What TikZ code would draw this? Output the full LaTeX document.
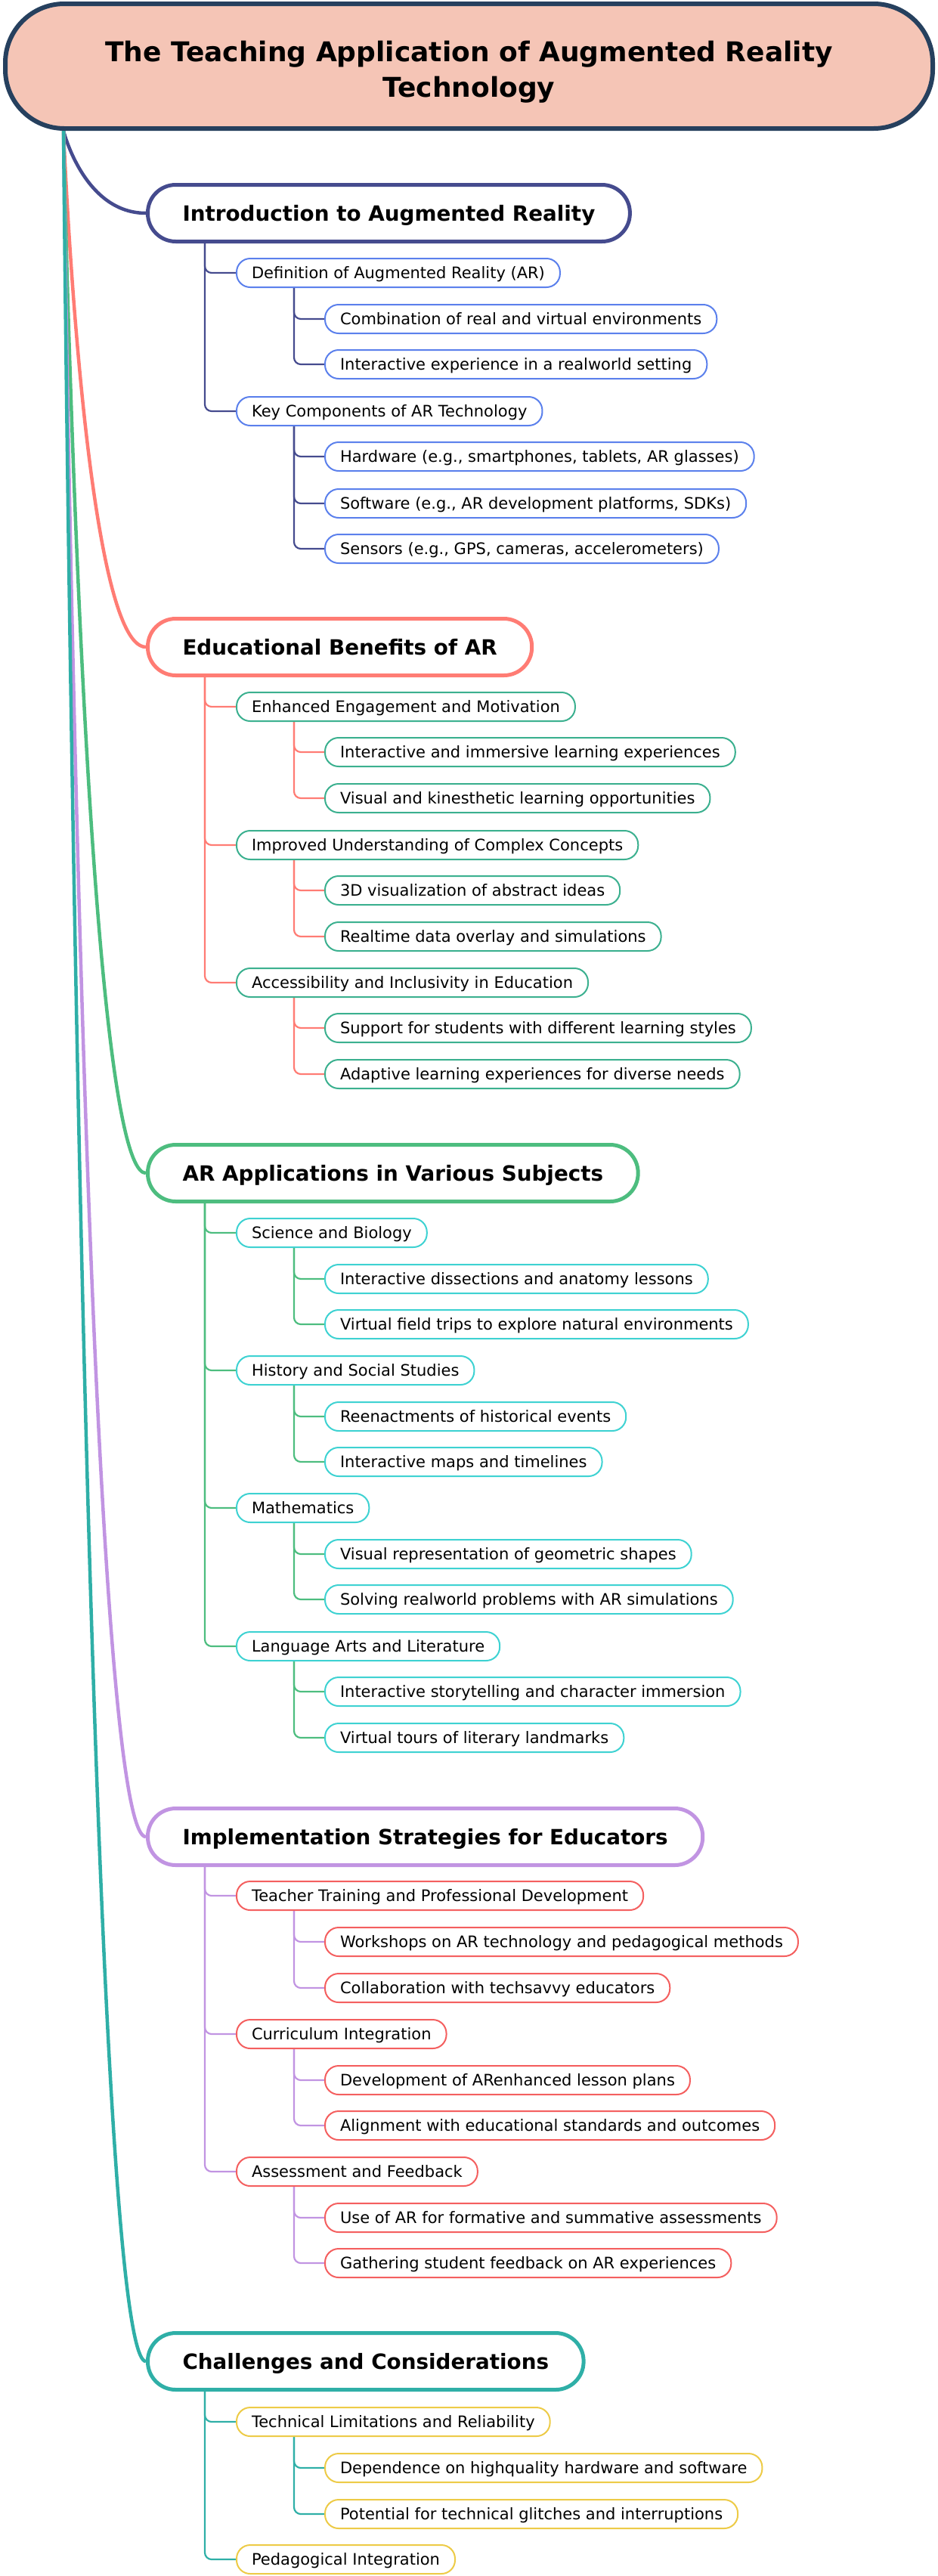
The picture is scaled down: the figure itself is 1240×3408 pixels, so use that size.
\documentclass[tikz,border=0pt]{standalone}
\usepackage{fontspec}
\setmainfont{DejaVu Sans}
\usetikzlibrary{calc}
\pgfdeclarelayer{background}
\pgfsetlayers{background,main}
\definecolor{rootfill}{HTML}{F5C5B6}
\definecolor{rootline}{HTML}{26405E}
\definecolor{ca}{HTML}{454B8E}
\definecolor{cab}{HTML}{5B80EC}
\definecolor{cb}{HTML}{FF7C74}
\definecolor{cbb}{HTML}{3BB08F}
\definecolor{cc}{HTML}{4DBD7F}
\definecolor{ccb}{HTML}{3ED2D2}
\definecolor{cd}{HTML}{C194E2}
\definecolor{cdb}{HTML}{F45F5F}
\definecolor{ce}{HTML}{2FAFA7}
\definecolor{ceb}{HTML}{EDCB47}
\tikzset{
  rootbox/.style={draw=rootline, line width=6pt, fill=rootfill, rounded corners=78pt,
    minimum width=1227pt, minimum height=165pt, inner sep=0pt},
  titletext/.style={align=center, font=\fontsize{36}{47}\selectfont\bfseries, inner sep=0pt},
  lvlone/.style={draw=#1, line width=5pt, fill=white, rounded corners=37pt,
    minimum height=75pt, inner xsep=46pt, inner ysep=0pt, anchor=west,
    text height=20.3pt, text depth=0pt, font=\fontsize{27.8}{32}\selectfont\bfseries},
  lvltwo/.style={draw=#1, line width=2pt, fill=white, rounded corners=18pt,
    minimum height=38pt, inner xsep=20pt, inner ysep=0pt, anchor=west,
    text height=15.3pt, text depth=0pt, font=\fontsize{21}{25}\selectfont},
  trunk/.style={draw=#1, line width=4.5pt},
  twig/.style={draw=#1, line width=2.2pt, rounded corners=9pt},
}
\begin{document}
\begin{tikzpicture}[x=1pt, y=-1pt]
\useasboundingbox (0,0) rectangle (1240,3408);
% root
\node[rootbox] (root) at (620.5,87.5) {};
\node[titletext] (title) at (620.5,95) {The Teaching Application of Augmented Reality\\Technology};
\coordinate (foot) at (84,173);

% branch 1
\node[lvlone=ca] (intro) at (193,282) {Introduction to Augmented Reality};
\node[lvltwo=cab] (def) at (312,361) {Definition of Augmented Reality (AR)};
\node[lvltwo=cab] (comb) at (429,422) {Combination of real and virtual environments};
\node[lvltwo=cab] (inter) at (429,482) {Interactive experience in a realworld setting};
\node[lvltwo=cab] (key) at (312,544) {Key Components of AR Technology};
\node[lvltwo=cab] (hw) at (429,604) {Hardware (e.g., smartphones, tablets, AR glasses)};
\node[lvltwo=cab] (sw) at (429,666) {Software (e.g., AR development platforms, SDKs)};
\node[lvltwo=cab] (sens) at (429,726) {Sensors (e.g., GPS, cameras, accelerometers)};

% branch 2
\node[lvlone=cb] (edu) at (193,856) {Educational Benefits of AR};
\node[lvltwo=cbb] (eng) at (312,935) {Enhanced Engagement and Motivation};
\node[lvltwo=cbb] (imm) at (429,995) {Interactive and immersive learning experiences};
\node[lvltwo=cbb] (kin) at (429,1056) {Visual and kinesthetic learning opportunities};
\node[lvltwo=cbb] (und) at (312,1118) {Improved Understanding of Complex Concepts};
\node[lvltwo=cbb] (viz) at (429,1178) {3D visualization of abstract ideas};
\node[lvltwo=cbb] (rt) at (429,1239) {Realtime data overlay and simulations};
\node[lvltwo=cbb] (acc) at (312,1300) {Accessibility and Inclusivity in Education};
\node[lvltwo=cbb] (sup) at (429,1360) {Support for students with different learning styles};
\node[lvltwo=cbb] (ada) at (429,1421) {Adaptive learning experiences for diverse needs};

% branch 3
\node[lvlone=cc] (apps) at (193,1552) {AR Applications in Various Subjects};
\node[lvltwo=ccb] (sci) at (312,1631) {Science and Biology};
\node[lvltwo=ccb] (dis) at (429,1692) {Interactive dissections and anatomy lessons};
\node[lvltwo=ccb] (fld) at (429,1752) {Virtual field trips to explore natural environments};
\node[lvltwo=ccb] (his) at (312,1813) {History and Social Studies};
\node[lvltwo=ccb] (ree) at (429,1874) {Reenactments of historical events};
\node[lvltwo=ccb] (maps) at (429,1934) {Interactive maps and timelines};
\node[lvltwo=ccb] (mat) at (312,1995) {Mathematics};
\node[lvltwo=ccb] (geo) at (429,2056) {Visual representation of geometric shapes};
\node[lvltwo=ccb] (sol) at (429,2116) {Solving realworld problems with AR simulations};
\node[lvltwo=ccb] (lan) at (312,2178) {Language Arts and Literature};
\node[lvltwo=ccb] (sto) at (429,2238) {Interactive storytelling and character immersion};
\node[lvltwo=ccb] (tou) at (429,2299) {Virtual tours of literary landmarks};

% branch 4
\node[lvlone=cd] (impl) at (193,2430) {Implementation Strategies for Educators};
\node[lvltwo=cdb] (tt) at (312,2508) {Teacher Training and Professional Development};
\node[lvltwo=cdb] (ws) at (429,2569) {Workshops on AR technology and pedagogical methods};
\node[lvltwo=cdb] (col) at (429,2630) {Collaboration with techsavvy educators};
\node[lvltwo=cdb] (cur) at (312,2691) {Curriculum Integration};
\node[lvltwo=cdb] (dev) at (429,2752) {Development of ARenhanced lesson plans};
\node[lvltwo=cdb] (ali) at (429,2812) {Alignment with educational standards and outcomes};
\node[lvltwo=cdb] (ass) at (312,2873) {Assessment and Feedback};
\node[lvltwo=cdb] (usear) at (429,2934) {Use of AR for formative and summative assessments};
\node[lvltwo=cdb] (gat) at (429,2994) {Gathering student feedback on AR experiences};

% branch 5
\node[lvlone=ce] (chal) at (193,3124) {Challenges and Considerations};
\node[lvltwo=ceb] (tec) at (312,3204) {Technical Limitations and Reliability};
\node[lvltwo=ceb] (dep) at (429,3265) {Dependence on highquality hardware and software};
\node[lvltwo=ceb] (pot) at (429,3326) {Potential for technical glitches and interruptions};
\node[lvltwo=ceb] (ped) at (312,3386) {Pedagogical Integration};

\begin{pgfonlayer}{background}
  % main branches
  \foreach \n/\c in {intro/ca, edu/cb, apps/cc, impl/cd, chal/ce}
    \draw[trunk=\c] (foot) .. controls (foot) and ($(foot |- \n.west)+(27,0)$) .. (\n.west);
  % first-level twigs
  \foreach \p/\k/\c in {intro/def/ca, intro/key/ca,
      edu/eng/cb, edu/und/cb, edu/acc/cb,
      apps/sci/cc, apps/his/cc, apps/mat/cc, apps/lan/cc,
      impl/tt/cd, impl/cur/cd, impl/ass/cd,
      chal/tec/ce, chal/ped/ce}
    \draw[twig=\c] ($(\p.south west)+(78,0)$) |- (\k.west);
  % second-level twigs
  \foreach \p/\k/\c in {def/comb/ca, def/inter/ca, key/hw/ca, key/sw/ca, key/sens/ca,
      eng/imm/cb, eng/kin/cb, und/viz/cb, und/rt/cb, acc/sup/cb, acc/ada/cb,
      sci/dis/cc, sci/fld/cc, his/ree/cc, his/maps/cc, mat/geo/cc, mat/sol/cc, lan/sto/cc, lan/tou/cc,
      tt/ws/cd, tt/col/cd, cur/dev/cd, cur/ali/cd, ass/usear/cd, ass/gat/cd,
      tec/dep/ce, tec/pot/ce}
    \draw[twig=\c] ($(\p.south west)+(77,0)$) |- (\k.west);
\end{pgfonlayer}
\end{tikzpicture}
\end{document}
